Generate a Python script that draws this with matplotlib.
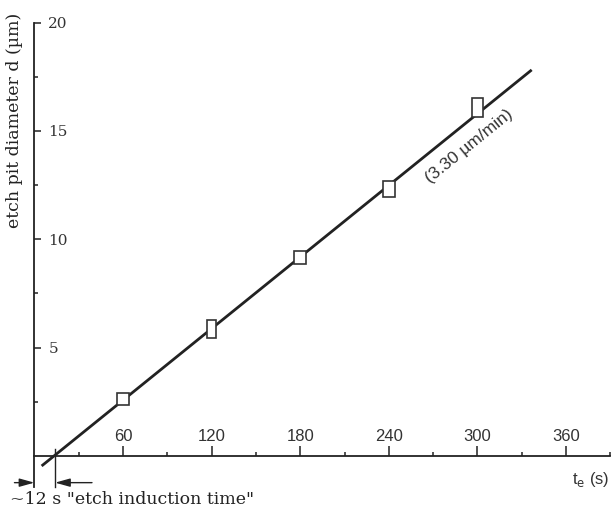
import numpy as np
import matplotlib
matplotlib.use("Agg")
import matplotlib.pyplot as plt
from matplotlib.patches import Rectangle

# etch time (s) and measured pit diameter (um), with box half-sizes
t_e = [60, 120, 180, 240, 300]
d = [2.63, 5.86, 9.17, 12.34, 16.07]
t_err = [4.3, 3.2, 4.0, 4.3, 3.6]
d_err = [0.27, 0.42, 0.30, 0.37, 0.43]

# fitted line (3.30 um/min) end points
fit_t = [4.9, 336.7]
fit_d = [-0.46, 17.82]
t_induction = 14

x_major = [60, 120, 180, 240, 300, 360]
x_minor = [30, 90, 150, 210, 270, 330, 390]
y_major = [5, 10, 15, 20]
y_minor = [2.5, 7.5, 12.5, 17.5]

ink = '#222222'
serif = 'DejaVu Serif'
sans = 'Liberation Sans'

fig = plt.figure(figsize=(6.13, 5.15), dpi=100)
ax = fig.add_axes([0.0561, 0.0544, 0.9397, 0.9016])
ax.set_xlim(0, 390)
ax.set_ylim(-1.43, 20)

for s in ['top', 'right']:
    ax.spines[s].set_visible(False)
ax.spines['bottom'].set_position(('data', 0))
for s in ['left', 'bottom']:
    ax.spines[s].set_linewidth(1.3)
    ax.spines[s].set_color(ink)

ax.set_xticks(x_major)
ax.set_xticks(x_minor, minor=True)
ax.set_yticks(y_major)
ax.set_yticks(y_minor, minor=True)
ax.tick_params(axis='x', which='major', direction='in', length=7, width=1.1,
               color=ink, pad=-9, labelsize=12)
ax.tick_params(axis='x', which='minor', direction='in', length=3, width=1.1, color=ink)
ax.tick_params(axis='y', which='major', direction='in', length=5, width=1.1,
               color=ink, pad=-10, labelsize=11)
ax.tick_params(axis='y', which='minor', direction='in', length=3, width=1.1, color=ink)
for lab in ax.get_xticklabels():
    lab.set_verticalalignment('bottom')
    lab.set_family(sans)
    lab.set_color('#333333')
for lab in ax.get_yticklabels():
    lab.set_horizontalalignment('left')
    lab.set_family(serif)
    lab.set_color('#333333')

# fit line and data boxes
ax.plot(fit_t, fit_d, color=ink, lw=2.0, solid_capstyle='butt', clip_on=False, zorder=2)
for t, y, dt, dy in zip(t_e, d, t_err, d_err):
    ax.add_patch(Rectangle((t - dt, y - dy), 2 * dt, 2 * dy, facecolor='white',
                           edgecolor='#333333', lw=1.2, zorder=3))

ax.text(294, 14.3, '(3.30 µm/min)', rotation=39, rotation_mode='anchor',
        ha='center', va='center', family=sans, fontsize=12.5, color='#333333')

# etch induction time marker
ax.plot([t_induction, t_induction], [0.32, -1.43], color=ink, lw=1.0, clip_on=False)
ax.annotate('', xy=(0, -1.23), xytext=(-13.5, -1.23), annotation_clip=False,
            arrowprops=dict(arrowstyle='-|>,head_length=0.9,head_width=0.25',
                            color=ink, lw=1.0, shrinkA=0, shrinkB=0))
ax.annotate('', xy=(t_induction, -1.23), xytext=(39, -1.23), annotation_clip=False,
            arrowprops=dict(arrowstyle='-|>,head_length=0.9,head_width=0.25',
                            color=ink, lw=1.0, shrinkA=0, shrinkB=0))

fig.text(10 / 613, 1 - 504 / 515, '~12 s "etch induction time"', family=serif,
         fontsize=12.5, ha='left', va='baseline', color='#222222')
ax.text(364, -1.3, r't$_{\mathrm{e}}$ (s)', family=sans, fontsize=12,
        ha='left', va='baseline', color='#333333')
fig.text(15 / 613, 1 - 120 / 515, 'etch pit diameter d (µm)', rotation=90,
         family=serif, fontsize=12.5, ha='center', va='center', color='#222222')

fig.savefig('out.png', dpi=100)
